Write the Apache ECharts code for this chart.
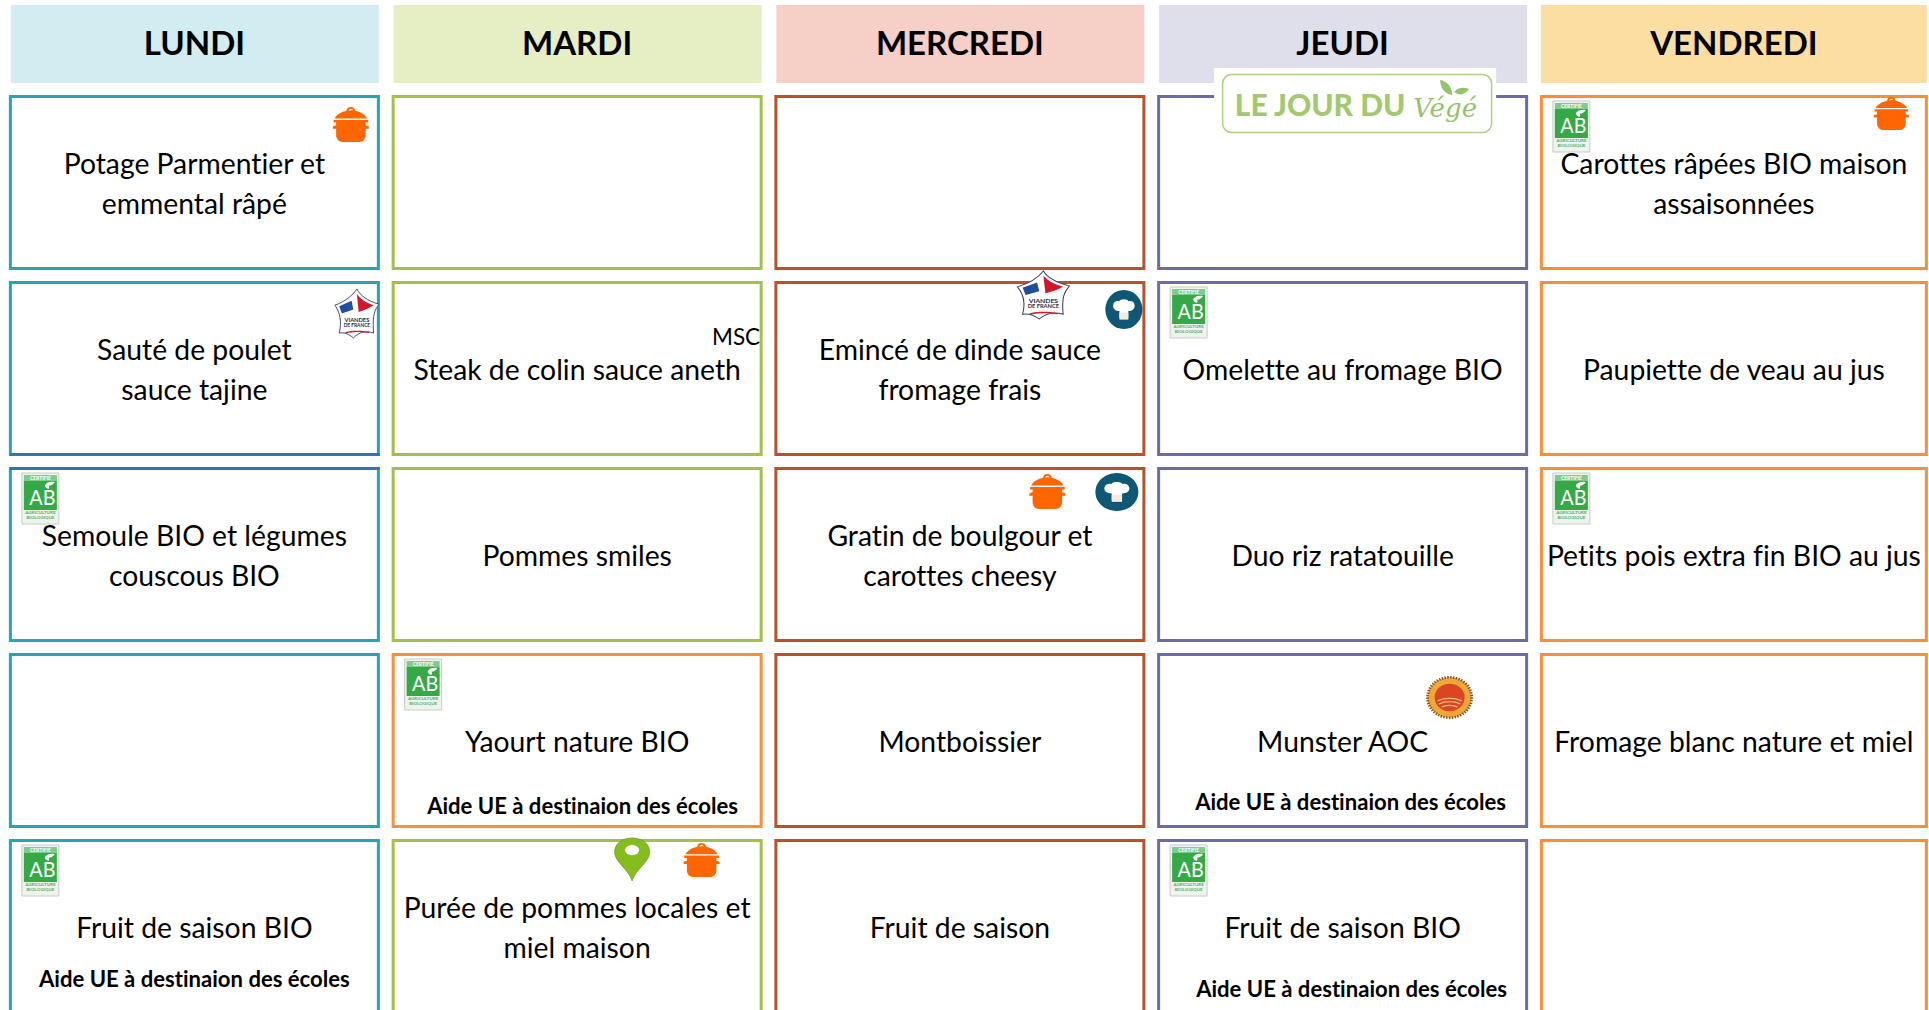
<!DOCTYPE html>
<html lang="fr">
<head>
<meta charset="utf-8">
<title>Menu</title>
<style>
html,body{margin:0;padding:0;background:#fff;overflow:hidden}
#c{width:1929px;height:1010px}
#c text{font-variant-ligatures:none !important}
</style>
<script src="https://cdn.jsdelivr.net/npm/echarts@6/dist/echarts.min.js"></script>
</head>
<body>
<div id="c"></div>
<script>
// ---- data ----
const days = ['LUNDI', 'MARDI', 'MERCREDI', 'JEUDI', 'VENDREDI'];
const courses = ['Entrée', 'Plat', 'Accompagnement', 'Laitage', 'Dessert'];
const lundi = ['Potage Parmentier et\nemmental râpé', 'Sauté de poulet\nsauce tajine', 'Semoule BIO et légumes\ncouscous BIO', '', 'Fruit de saison BIO'];
const mardi = ['', 'Steak de colin sauce aneth', 'Pommes smiles', 'Yaourt nature BIO', 'Purée de pommes locales et\nmiel maison'];
const mercredi = ['', 'Emincé de dinde sauce\nfromage frais', 'Gratin de boulgour et\ncarottes cheesy', 'Montboissier', 'Fruit de saison'];
const jeudi = ['', 'Omelette au fromage BIO', 'Duo riz ratatouille', 'Munster AOC', 'Fruit de saison BIO'];
const vendredi = ['Carottes râpées BIO maison\nassaisonnées', 'Paupiette de veau au jus', 'Petits pois extra fin BIO au jus', 'Fromage blanc nature et miel', ''];
const menu = [lundi, mardi, mercredi, jeudi, vendredi];
const aidText = 'Aide UE à destinaion des écoles';
const aidCells = [[1, 3], [3, 3], [0, 4], [3, 4]];
const bioCells = [[4, 0], [3, 1], [0, 2], [4, 2], [1, 3], [0, 4], [3, 4]];
const potCells = [[0, 0], [4, 0], [2, 2], [1, 4]];
const starCells = [[0, 1], [2, 1]];
const hatCells = [[2, 1], [2, 2]];
const pinCells = [[1, 4]];
const sealCells = [[3, 3]];
const mscCells = [[1, 1]];
const vegeCells = [[3, 0]];

// ---- layout and styles ----
const FONT = 'Lato';
const CELL_W = 371, CELL_H = 175, LAST_W = 388, STROKE = 3, LINE_H = 40;
const HEAD_TOP = 5, HEAD_H = 78;
const headFill = ['#d2edf1', '#e6efc4', '#f6cfc6', '#dfdeeb', '#fcdea3'];
const dayBorder = ['#25a5b0', '#a3c14a', '#bd4f2b', '#6c6ca4', '#fb8f35'];
const dairyBorder = '#fb8f35';
const edgeBlue = '#2f75b5';
const potBox = { '0,0': [324, 12, 36, 35], '4,0': [334, 2, 35, 33], '2,2': [255, 7, 36, 35], '1,4': [292, 4, 36, 34] };
const starBox = { '0,1': [326, 8, 44, 49], '2,1': [243, -10, 52, 48] };
const hatBox = { '2,1': [331, 9, 37, 39], '2,2': [321, 6, 43, 38] };
const aidPos = { '1,3': [5.4, 152], '3,3': [7.9, 148], '0,4': [0, 139], '3,4': [8.9, 149] };

function cellRect(api, c, r) {
  const p = api.coord([c, r]);
  const w = c === days.length - 1 ? LAST_W : CELL_W;
  const x = p[0] - CELL_W / 2;
  const y = p[1] - CELL_H / 2;
  return { x, y, w, h: CELL_H, cx: x + w / 2, cy: y + CELL_H / 2 };
}
function txt(x, y, text, size, o) {
  return { type: 'text', x, y, style: Object.assign({
    text, fontFamily: FONT, fontSize: size, fill: '#000', align: 'center', verticalAlign: 'middle'
  }, o || {}) };
}
function pth(d, fill, o) {
  return { type: 'path', shape: { pathData: d }, style: Object.assign({ fill }, o || {}) };
}
function boxed(x, y, w, h, children) {
  return { type: 'group', x, y, scaleX: w / 100, scaleY: h / 100, children };
}
const flat = cells => cells.map(c => ({ value: c }));

function headerItem(params, api) {
  const c = api.value(0), g = cellRect(api, c, 0);
  const last = c === days.length - 1;
  const x = g.x + (last ? 1 : 2), w = g.w - (last ? 2 : 3);
  return { type: 'group', children: [
    { type: 'rect', shape: { x, y: HEAD_TOP, width: w, height: HEAD_H }, style: { fill: headFill[c] } },
    txt(g.cx, HEAD_TOP + HEAD_H / 2 - 2, days[c], 33, { fontWeight: 'bold' })
  ] };
}
function cellItem(params, api) {
  const c = api.value(0), r = api.value(1), g = cellRect(api, c, r);
  const color = (c === 1 && r === 3) ? dairyBorder : dayBorder[c];
  const kids = [{ type: 'rect',
    shape: { x: g.x + STROKE / 2, y: g.y + STROKE / 2, width: g.w - STROKE, height: g.h - STROKE },
    style: { fill: '#fff', stroke: color, lineWidth: STROKE } }];
  if (c === 0 && r === 1) kids.push({ type: 'rect', shape: { x: g.x + 1, y: g.y + g.h - STROKE, width: g.w - 1, height: STROKE }, style: { fill: edgeBlue } });
  if (c === 0 && r === 2) kids.push({ type: 'rect', shape: { x: g.x + 1, y: g.y, width: g.w - 1, height: STROKE }, style: { fill: edgeBlue } });
  const t = menu[c][r];
  if (t) {
    const lines = t.split('\n');
    lines.forEach((line, i) => {
      kids.push(txt(g.cx, g.cy + (i - (lines.length - 1) / 2) * LINE_H, line, 28.3));
    });
  }
  return { type: 'group', children: kids };
}
function aidItem(params, api) {
  const c = api.value(0), r = api.value(1), g = cellRect(api, c, r);
  const o = aidPos[c + ',' + r];
  return txt(g.cx + o[0], g.y + o[1], aidText, 22.1, { fontWeight: 'bold' });
}
function potItem(params, api) {
  const c = api.value(0), r = api.value(1), g = cellRect(api, c, r), b = potBox[c + ',' + r];
  return boxed(g.x + b[0], g.y + b[1], b[2], b[3], [
    pth('M50 0C42 0 38 5 38 11C24 14 10 22 5 33L95 33C90 22 76 14 62 11C62 5 58 0 50 0ZM44 11C45 7 47 5 50 5C53 5 55 7 56 10C52 9 48 9 44 11Z', '#ff6600'),
    pth('M2 37L98 37L98 44L91 44L91 52L100 55L100 62L91 62L91 80C91 92 83 100 72 100L28 100C17 100 9 92 9 80L9 62L0 62L0 55L9 52L9 44L2 44Z', '#ff6600')
  ]);
}
function bioItem(params, api) {
  const g = cellRect(api, api.value(0), api.value(1));
  const ab = txt(20.5, 23.5, 'AB', 22, { fill: '#fff', fontFamily: 'Lato' });
  ab.scaleX = 0.9;
  return { type: 'group', x: g.x + 13, y: g.y + 6, children: [
    { type: 'rect', shape: { x: 0, y: 0, width: 37, height: 51 }, style: { fill: '#eef3ee', stroke: '#c9cdc9', lineWidth: 1 } },
    { type: 'rect', shape: { x: 2, y: 2, width: 33, height: 6 }, style: { fill: '#7fca8d' } },
    txt(18.5, 4.6, 'CERTIFIÉ', 5, { fill: '#fff', fontWeight: 'bold' }),
    { type: 'rect', shape: { x: 2, y: 8, width: 33, height: 29 }, style: { fill: '#35a946' } },
    ab,
    pth('M23 12C25 9 29 8 33 9C31 12 28 13 27 12.5C27.5 14 27.5 15 26.5 16C24.5 15 23 14 23 12Z', '#fff'),
    txt(18.5, 39.8, 'AGRICULTURE', 4.5, { fill: '#53b065', fontWeight: 'bold' }),
    txt(18.5, 44.4, 'BIOLOGIQUE', 4.5, { fill: '#53b065', fontWeight: 'bold' })
  ] };
}
function starItem(params, api) {
  const c = api.value(0), r = api.value(1), g = cellRect(api, c, r), b = starBox[c + ',' + r];
  return boxed(g.x + b[0], g.y + b[1], b[2], b[3], [
    pth('M50 0C58 14 74 24 100 31C90 44 85 54 88 90C70 84 55 88 42 100C32 92 22 88 10 90C16 66 12 48 0 33C22 26 40 14 50 0Z', '#fff', { stroke: '#39435f', lineWidth: 2 }),
    pth('M10 35L38 24L42 42L16 50Z', '#1f4e9b'),
    pth('M50 10C60 22 72 28 88 33C76 40 66 43 54 47Z', '#d3162c'),
    txt(50, 61, 'VIANDES', 13, { fill: '#222b4a', fontWeight: 'bold' }),
    txt(50, 74, 'DE FRANCE', 11, { fill: '#222b4a', fontWeight: 'bold' }),
    pth('M24 88C42 84 58 84 78 88L78 90C58 87 42 87 24 91Z', '#d3162c')
  ]);
}
function hatItem(params, api) {
  const c = api.value(0), r = api.value(1), g = cellRect(api, c, r), b = hatBox[c + ',' + r];
  return boxed(g.x + b[0], g.y + b[1], b[2], b[3], [
    { type: 'circle', shape: { cx: 50, cy: 50, r: 50 }, style: { fill: '#0e5875' } },
    pth('M38 72L38 54C26 54 20 47 21 39C22 31 30 27 37 29C41 22 59 22 63 29C70 27 78 31 79 39C80 47 74 54 62 54L62 72Z', '#fff'),
    { type: 'rect', shape: { x: 38, y: 58, width: 24, height: 18 }, style: { fill: '#f7eadf' } }
  ]);
}
function pinItem(params, api) {
  const g = cellRect(api, api.value(0), api.value(1));
  return boxed(g.x + 223, g.y - 1, 35, 43, [
    pth('M50 100C42 74 0 56 0 33C0 12 23 0 50 0C77 0 100 12 100 33C100 56 58 74 50 100Z', '#85bd1e', { stroke: '#6f9a2a', lineWidth: 2 }),
    { type: 'ellipse', shape: { cx: 50, cy: 28, rx: 20, ry: 12 }, style: { fill: '#fff' } }
  ]);
}
function sealItem(params, api) {
  const g = cellRect(api, api.value(0), api.value(1));
  return boxed(g.x + 269, g.y + 23, 47, 43, [
    { type: 'circle', shape: { cx: 50, cy: 50, r: 47 }, style: { fill: '#eda83a', stroke: '#8a4c1d', lineWidth: 6, lineDash: [3, 3] } },
    { type: 'circle', shape: { cx: 50, cy: 50, r: 32 }, style: { fill: '#dd4424' } },
    pth('M24 58C38 50 62 50 76 58M27 65C40 58 60 58 73 65M33 72C42 67 58 67 67 72', 'none', { stroke: '#f0c276', lineWidth: 3 })
  ]);
}
function mscItem(params, api) {
  const g = cellRect(api, api.value(0), api.value(1));
  return txt(g.x + 368.5, g.y + 55.5, 'MSC', 22.5, { align: 'right' });
}
function vegeItem(params, api) {
  const g = cellRect(api, api.value(0), api.value(1));
  const x = g.x + 57, y = g.y - 27;
  const green = '#a2c96f';
  return { type: 'group', x, y, children: [
    { type: 'rect', shape: { x: 0, y: 0, width: 282, height: 70 }, style: { fill: '#fff' } },
    { type: 'rect', shape: { x: 8.5, y: 6.5, width: 269, height: 58, r: 9 }, style: { fill: '#fff', stroke: '#aed080', lineWidth: 1.5 } },
    txt(106, 35.5, 'LE JOUR DU', 30, { fill: green, fontWeight: 900, fontFamily: 'Lato' }),
    txt(231, 40, 'Végé', 26, { fill: '#93c46c', fontStyle: 'italic', fontFamily: 'DejaVu Serif' }),
    pth('M226 12C233 13 238 19 238 27C231 26 226 20 226 12ZM240 24C244 19 250 19 255 21C251 27 245 28 240 24Z', '#93c46c')
  ] };
}

const allCells = [];
days.forEach((d, c) => courses.forEach((n, r) => allCells.push([c, r])));
const layer = (renderItem, cells) => ({
  type: 'custom', renderItem, clip: false, silent: true,
  encode: { x: 0, y: 1 }, data: flat(cells)
});

const chart = echarts.init(document.getElementById('c'), null, { renderer: 'svg', width: 1929, height: 1010 });
chart.setOption({
  animation: false,
  backgroundColor: '#ffffff',
  tooltip: { show: false },
  grid: { left: 3, top: 182.5, width: 1913.75, height: 744, containLabel: false },
  xAxis: { type: 'category', data: days, show: false },
  yAxis: { type: 'category', data: courses, inverse: true, boundaryGap: false, show: false },
  series: [
    layer(headerItem, days.map((d, c) => [c, 0])),
    layer(cellItem, allCells),
    layer(aidItem, aidCells),
    layer(potItem, potCells),
    layer(bioItem, bioCells),
    layer(starItem, starCells),
    layer(hatItem, hatCells),
    layer(pinItem, pinCells),
    layer(sealItem, sealCells),
    layer(mscItem, mscCells),
    layer(vegeItem, vegeCells)
  ]
});
</script>
</body>
</html>
